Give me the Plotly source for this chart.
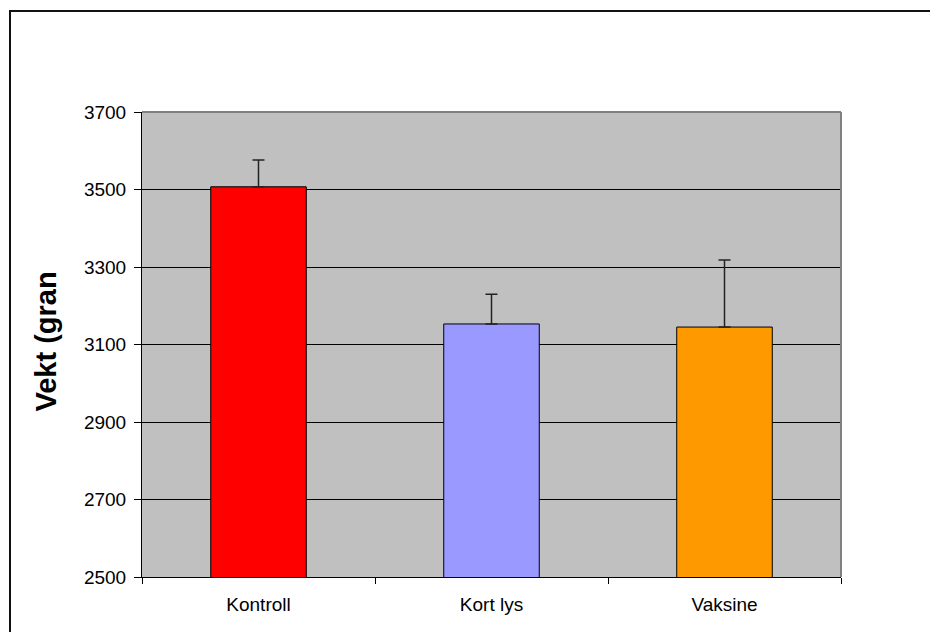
import plotly.graph_objects as go

categories = ["Kontroll", "Kort lys", "Vaksine"]
values = [3507, 3153, 3145]
errors_plus = [69, 77, 173]
bar_colors = ["#FF0000", "#9999FF", "#FF9900"]
y_ticks = [2500, 2700, 2900, 3100, 3300, 3500, 3700]
y_title = "Vekt (gran"

# page has an 8px body margin; figure is sized to fit the 938x632 window
OFF = 8
W, H = 938 - OFF, 632 - OFF
L, T = 142 - OFF, 112 - OFF
pw, ph = 699, 465
R = W - L - pw
B = H - T - ph

def px_x(page_x):
    return (page_x - OFF - L) / pw

def px_y(page_y):
    return (T + ph - (page_y - OFF)) / ph

font_family = "Arial, Liberation Sans, sans-serif"

fig = go.Figure()
fig.add_trace(go.Bar(
    x=categories,
    y=values,
    width=0.41,
    marker=dict(color=bar_colors, line=dict(color="#000000", width=1)),
    error_y=dict(type="data", symmetric=False, array=errors_plus,
                 arrayminus=[0, 0, 0], color="#222222", thickness=1.5, width=6),
    showlegend=False,
))

fig.update_layout(
    width=W, height=H,
    margin=dict(l=L, r=R, t=T, b=B, pad=0),
    paper_bgcolor="#FFFFFF",
    plot_bgcolor="#C0C0C0",
    font=dict(family=font_family, color="#000000", size=19),
    xaxis=dict(
        type="category",
        showline=True, linecolor="#000000", linewidth=1,
        ticks="outside", tickson="boundaries", ticklen=6, tickcolor="#000000",
        ticklabelstandoff=10,
        tickfont=dict(size=19, family=font_family),
        showgrid=False,
        range=[-0.5, 2.5],
    ),
    yaxis=dict(
        range=[2500, 3700],
        tickvals=y_ticks,
        showline=True, linecolor="#000000", linewidth=1,
        ticks="outside", ticklen=7, tickcolor="#000000",
        ticklabelstandoff=4,
        tickfont=dict(size=19, family=font_family),
        showgrid=True, gridcolor="#000000", gridwidth=1,
        zeroline=False,
    ),
    shapes=[
        dict(type="line", xref="paper", yref="paper", x0=0, x1=1, y0=1, y1=1,
             line=dict(color="#808080", width=2)),
        dict(type="line", xref="paper", yref="paper", x0=1, x1=1, y0=0, y1=1,
             line=dict(color="#808080", width=2)),
        dict(type="rect", xref="paper", yref="paper",
             x0=px_x(10), x1=px_x(950), y0=px_y(650), y1=px_y(11),
             line=dict(color="#111111", width=2), fillcolor="rgba(0,0,0,0)",
             layer="above"),
    ],
    annotations=[
        dict(text="<b>" + y_title + "</b>", xref="paper", yref="paper",
             x=px_x(45), y=px_y(341.5), textangle=-90, showarrow=False,
             xanchor="center", yanchor="middle",
             font=dict(size=29, family=font_family, color="#000000")),
    ],
)

fig.write_html("out.html")
